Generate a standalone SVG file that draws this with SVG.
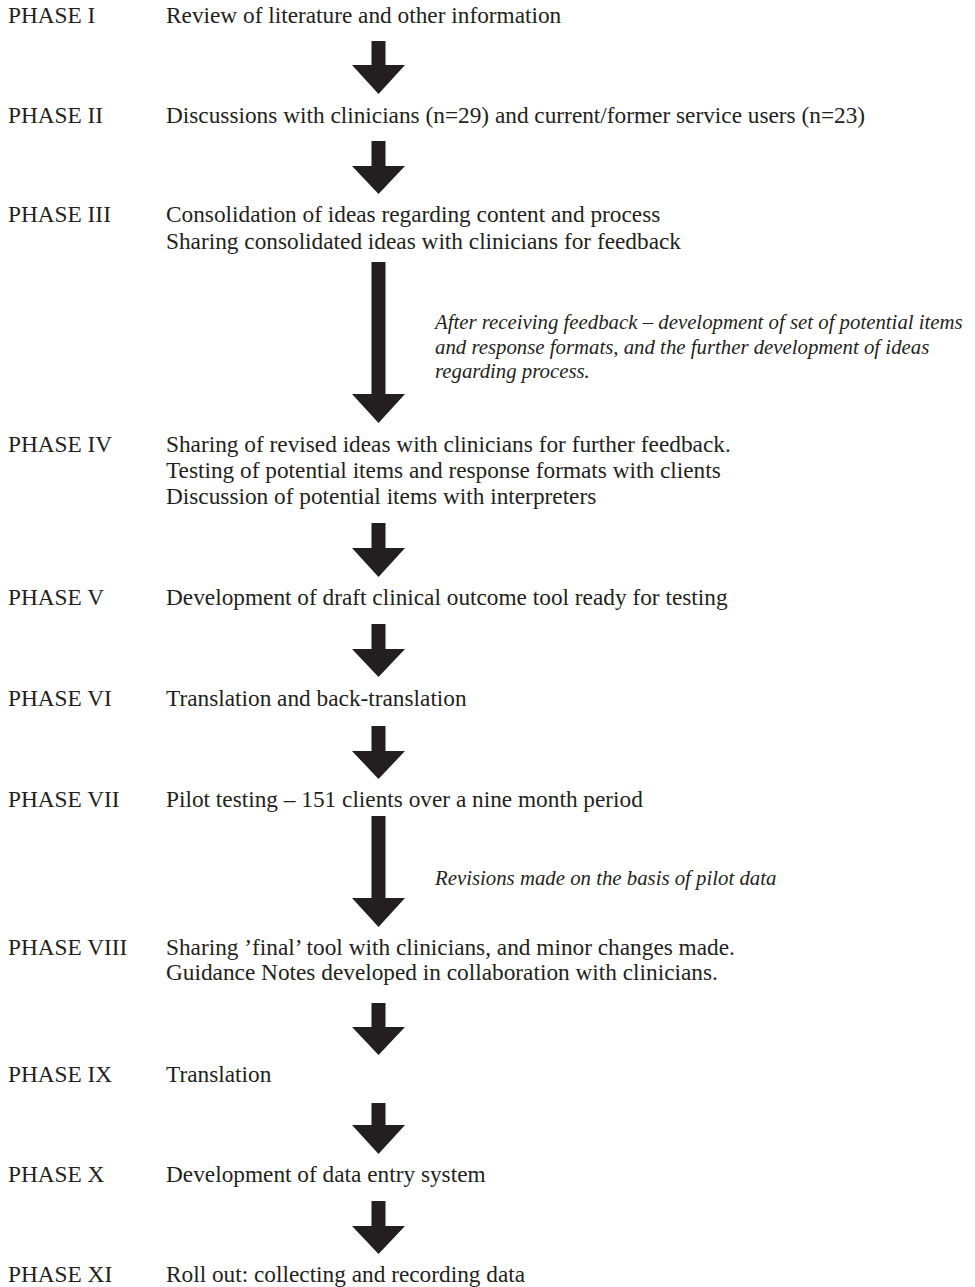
<svg xmlns="http://www.w3.org/2000/svg" width="975" height="1287" viewBox="0 0 975 1287">
<style>
.lbl{font-family:"Liberation Serif","Times New Roman",serif;font-size:23.3px;fill:#231f20}
.txt{font-family:"Liberation Serif","Times New Roman",serif;font-size:23.3px;fill:#231f20}
.note{font-family:"Liberation Serif","Times New Roman",serif;font-size:20.8px;font-style:italic;fill:#231f20}
.arrow{fill:#231f20;stroke:none}
</style>
<rect width="975" height="1287" fill="#ffffff"/>
<g id="phase1"><text class="lbl" x="8" y="22.5">PHASE I</text><text class="txt" x="166" y="22.5">Review of literature and other information</text></g>
<g id="phase2"><text class="lbl" x="8" y="122.5">PHASE II</text><text class="txt" x="166" y="122.5">Discussions with clinicians (n=29) and current/former service users (n=23)</text></g>
<g id="phase3"><text class="lbl" x="8" y="222">PHASE III</text><text class="txt" x="166" y="222">Consolidation of ideas regarding content and process</text><text class="txt" x="166" y="248.5">Sharing consolidated ideas with clinicians for feedback</text></g>
<g id="phase4"><text class="lbl" x="8" y="452">PHASE IV</text><text class="txt" x="166" y="452">Sharing of revised ideas with clinicians for further feedback.</text><text class="txt" x="166" y="478">Testing of potential items and response formats with clients</text><text class="txt" x="166" y="504">Discussion of potential items with interpreters</text></g>
<g id="phase5"><text class="lbl" x="8" y="605">PHASE V</text><text class="txt" x="166" y="605">Development of draft clinical outcome tool ready for testing</text></g>
<g id="phase6"><text class="lbl" x="8" y="706">PHASE VI</text><text class="txt" x="166" y="706">Translation and back-translation</text></g>
<g id="phase7"><text class="lbl" x="8" y="807">PHASE VII</text><text class="txt" x="166" y="807">Pilot testing – 151 clients over a nine month period</text></g>
<g id="phase8"><text class="lbl" x="8" y="955">PHASE VIII</text><text class="txt" x="166" y="955">Sharing ’final’ tool with clinicians, and minor changes made.</text><text class="txt" x="166" y="980">Guidance Notes developed in collaboration with clinicians.</text></g>
<g id="phase9"><text class="lbl" x="8" y="1082">PHASE IX</text><text class="txt" x="166" y="1082">Translation</text></g>
<g id="phase10"><text class="lbl" x="8" y="1182">PHASE X</text><text class="txt" x="166" y="1182">Development of data entry system</text></g>
<g id="phase11"><text class="lbl" x="8" y="1282">PHASE XI</text><text class="txt" x="166" y="1282">Roll out: collecting and recording data</text></g>
<g id="connectors">
<path class="arrow" d="M371.5 41H385.5V65H405L378.5 94L352 65H371.5Z"/>
<path class="arrow" d="M371.5 141H385.5V166H405L378.5 194L352 166H371.5Z"/>
<path class="arrow" d="M371.5 262H385.5V394H405L378.5 423L352 394H371.5Z"/>
<path class="arrow" d="M371.5 523H385.5V548H405L378.5 577L352 548H371.5Z"/>
<path class="arrow" d="M371.5 624H385.5V649H405L378.5 677L352 649H371.5Z"/>
<path class="arrow" d="M371.5 726H385.5V751H405L378.5 779L352 751H371.5Z"/>
<path class="arrow" d="M371.5 816H385.5V898H405L378.5 927L352 898H371.5Z"/>
<path class="arrow" d="M371.5 1003H385.5V1027H405L378.5 1055L352 1027H371.5Z"/>
<path class="arrow" d="M371.5 1103H385.5V1125H405L378.5 1154L352 1125H371.5Z"/>
<path class="arrow" d="M371.5 1201H385.5V1226H405L378.5 1254L352 1226H371.5Z"/>
<g id="note-feedback"><text class="note" x="435" y="329">After receiving feedback – development of set of potential items</text><text class="note" x="435" y="353.5">and response formats, and the further development of ideas</text><text class="note" x="435" y="378">regarding process.</text></g>
<g id="note-revisions"><text class="note" x="435" y="885">Revisions made on the basis of pilot data</text></g>
</g>
</svg>
